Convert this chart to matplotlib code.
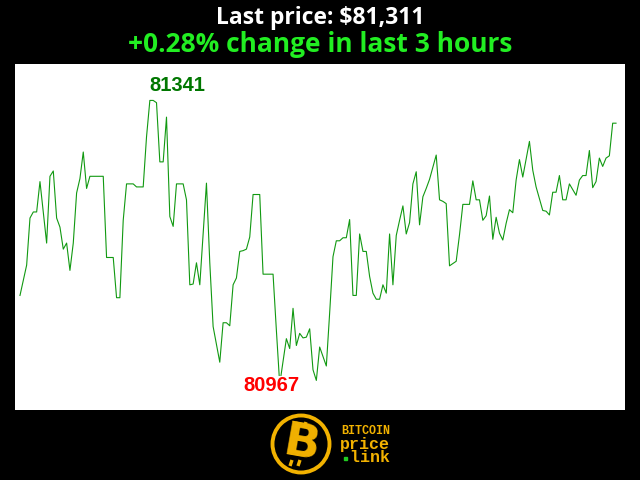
import numpy as np
import matplotlib.pyplot as plt
from matplotlib.patches import Circle

# minuto (das ultimas 3 horas) e preco em USD, so os vertices da linha
minutos = [0, 1, 2, 3, 4, 5, 6, 8, 9, 10, 11, 12, 13, 14, 15, 16, 17, 18, 19, 20,
           21, 25, 26, 28, 29, 30, 31, 32, 34, 35, 37, 38, 39, 40, 41, 42, 43, 44, 45, 46,
           47, 49, 50, 51, 52, 53, 54, 56, 57, 58, 60, 61, 62, 63, 64, 65, 66, 67, 68, 69,
           70, 72, 73, 76, 77, 78, 80, 81, 82, 83, 84, 85, 86, 87, 88, 89, 90, 92, 93, 94,
           95, 96, 97, 98, 99, 100, 101, 102, 103, 104, 105, 106, 107, 108, 109, 110, 111, 112, 113, 114,
           115, 116, 117, 118, 119, 120, 121, 122, 123, 124, 125, 126, 127, 128, 129, 131, 132, 133, 135, 136,
           137, 138, 139, 140, 141, 142, 143, 144, 145, 146, 147, 148, 149, 150, 151, 153, 154, 155, 157, 158,
           159, 160, 161, 162, 163, 164, 165, 167, 168, 169, 170, 171, 172, 173, 174, 175, 176, 177, 178, 179]
precos = [81084, 81104, 81124, 81186, 81194, 81194, 81234, 81153, 81241, 81248, 81186, 81174, 81145, 81153, 81117, 81153, 81219, 81238, 81273, 81225,
          81241, 81241, 81134, 81134, 81081, 81081, 81183, 81231, 81231, 81227, 81227, 81293, 81341, 81341, 81338, 81260, 81260, 81319, 81188, 81175,
          81231, 81231, 81210, 81098, 81099, 81127, 81098, 81232, 81127, 81043, 80996, 81048, 81048, 81044, 81098, 81107, 81142, 81143, 81145, 81161,
          81217, 81217, 81112, 81112, 81038, 80967, 81027, 81014, 81067, 81018, 81034, 81028, 81029, 81040, 80986, 80972, 81016, 80991, 81061, 81135,
          81156, 81156, 81160, 81160, 81184, 81084, 81084, 81165, 81142, 81142, 81109, 81087, 81079, 81079, 81098, 81087, 81165, 81098, 81163, 81183,
          81202, 81165, 81180, 81231, 81247, 81177, 81214, 81225, 81237, 81253, 81269, 81210, 81208, 81205, 81123, 81129, 81164, 81204, 81204, 81235,
          81210, 81210, 81183, 81189, 81215, 81158, 81187, 81166, 81157, 81179, 81197, 81193, 81236, 81263, 81240, 81287, 81249, 81227, 81196, 81195,
          81190, 81220, 81220, 81242, 81210, 81210, 81231, 81216, 81236, 81242, 81242, 81275, 81226, 81234, 81265, 81254, 81265, 81268, 81311, 81311]

horas = 3
ultimo = precos[-1]
variacao = (precos[-1] - precos[0]) / precos[0] * 100
i_max = int(np.argmax(precos))
i_min = int(np.argmin(precos))

fig = plt.figure(figsize=(6.4, 4.8), dpi=100, facecolor='black')

# titulos
fig.text(0.5, 1 - 18.5 / 480, f'Last price: ${ultimo:,}', color='white', fontsize=16.5,
         fontweight='bold', family='Open Sans', ha='center', va='center')
fig.text(0.5, 1 - 44.5 / 480, f'{variacao:+.2f}% change in last {horas} hours', color='#22ee22',
         fontsize=19, fontweight='bold', family='Open Sans', ha='center', va='center')

ax = fig.add_axes([15 / 640, 70 / 480, 610 / 640, 346 / 480])
ax.set_facecolor('white')
ax.plot(minutos, precos, color='#119911', linewidth=0.8)
ax.set_xlim(-1.5, 181.7)
ax.set_ylim(80933, 81389)
ax.set_xticks([])
ax.set_yticks([])
for s in ax.spines.values():
    s.set_visible(False)

# rotulos de maximo e minimo
ax.annotate(str(precos[i_max]), (minutos[i_max], precos[i_max]), xytext=(0, 6.5),
            textcoords='offset points', ha='left', va='baseline', color='#007700',
            fontsize=14.5, fontweight='bold', family='Liberation Sans',
            bbox=dict(facecolor='white', edgecolor='none', pad=0.5))
ax.annotate(str(precos[i_min]), (minutos[i_min], precos[i_min]), xytext=(-6, -5),
            textcoords='offset points', ha='center', va='baseline', color='#ff0000',
            fontsize=14.5, fontweight='bold', family='Liberation Sans',
            bbox=dict(facecolor='white', edgecolor='none', pad=0.5))

# logo
ouro = '#f2b200'
lax = fig.add_axes([268 / 640, 3 / 480, 66 / 640, 66 / 480])
lax.set_xlim(-33, 33)
lax.set_ylim(-33, 33)
lax.set_aspect('equal')
lax.axis('off')
lax.add_patch(Circle((0, 0), 28.5, facecolor='none', edgecolor=ouro, linewidth=2.8))
lax.text(1, -1, 'B', color=ouro, fontsize=34, fontweight='heavy', family='DejaVu Sans',
         ha='center', va='center', rotation=-10)
for x0 in [-4, 4]:
    lax.plot([x0 - 1, x0 + 1], [16, 22], color=ouro, linewidth=2.4, solid_capstyle='butt')
    lax.plot([x0 - 7, x0 - 5], [-22, -16], color=ouro, linewidth=2.4, solid_capstyle='butt')

fig.text(341 / 640, 1 - 433.5 / 480, 'BITCOIN', color=ouro, fontsize=8.5, fontweight='bold',
         family='Liberation Mono', ha='left', va='baseline')
fig.text(340 / 640, 1 - 437.5 / 480, 'price\n link', color=ouro, fontsize=12, fontweight='bold',
         family='Liberation Mono', ha='left', va='top', linespacing=0.8)
fig.patches.append(plt.Rectangle((344 / 640, 1 - 460 / 480), 3 / 640, 3 / 480,
                                 transform=fig.transFigure, color='#22cc22'))

plt.savefig('out.png', dpi=100, facecolor='black')
